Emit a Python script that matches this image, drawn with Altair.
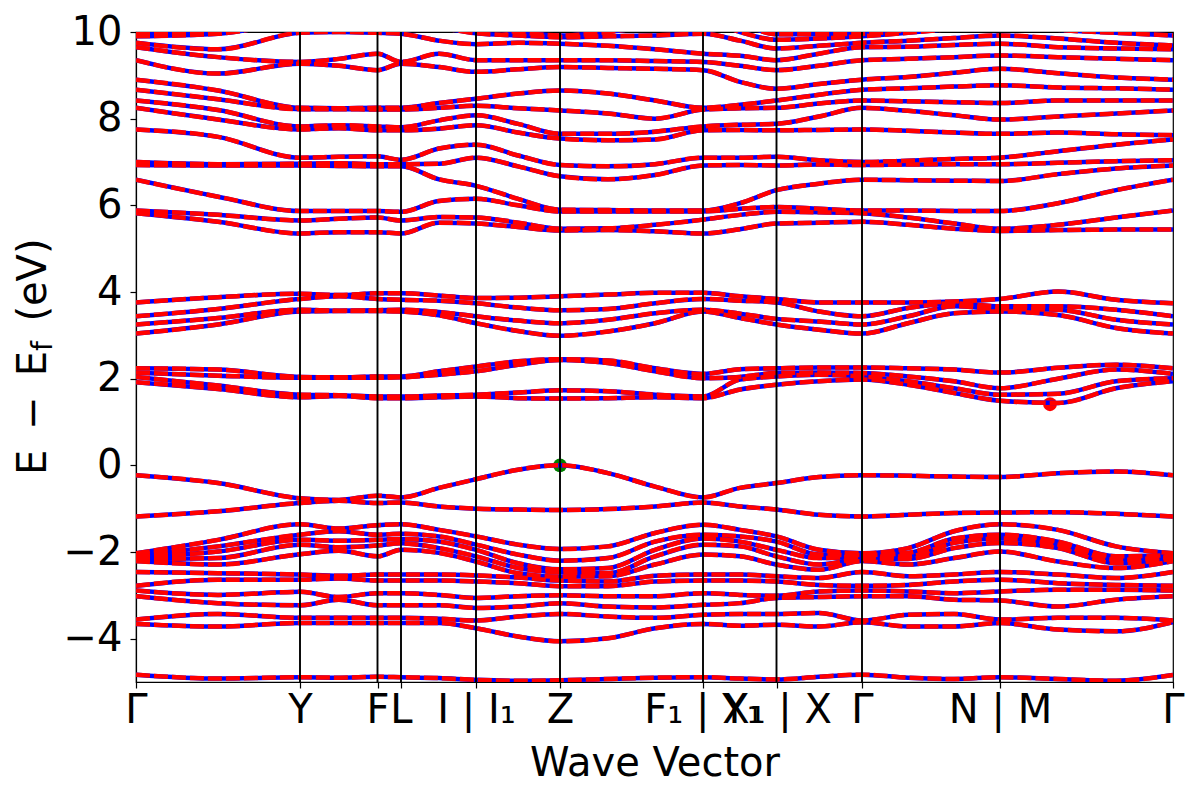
import altair as alt
import pandas as pd

# k-path sample positions (arbitrary distance units)
k_points = [0.0, 0.82, 1.64, 2.03, 2.415, 2.65, 3.03, 3.40, 3.82, 4.24, 4.72, 5.19,
            5.67, 6.04, 6.405, 6.83, 7.26, 7.72, 8.18, 8.64, 9.22, 9.80, 10.37]
k_ticks = [0.0, 1.64, 2.415, 2.65, 3.40, 4.24, 5.67, 6.405, 7.26, 8.64, 10.37]
k_labels = ["Γ", "Y", "F", "L", "I | I₁", "Z", "F₁ | Y₁", "X₁ | X", "Γ", "N | M", "Γ"]
y_ticks = [-4, -2, 0, 2, 4, 6, 8, 10]

# valence bands (eV), one row per k sample point
vb_rows = [
    [-0.23, -1.18, -2.03, -2.07, -2.11, -2.16, -2.21, -2.46, -2.78, -2.89, -3.02, -3.56, -3.66, -4.83],
    [-0.41, -1.06, -1.72, -1.87, -1.99, -2.14, -2.29, -2.49, -2.64, -2.99, -3.18, -3.43, -3.72, -4.92],
    [-0.76, -0.87, -1.36, -1.60, -1.72, -1.83, -2.05, -2.52, -2.64, -2.92, -3.23, -3.52, -3.64, -4.89],
    [-0.80, -0.82, -1.46, -1.52, -1.74, -1.89, -1.97, -2.55, -2.61, -3.04, -3.10, -3.52, -3.64, -4.90],
    [-0.70, -0.87, -1.38, -1.60, -1.72, -1.85, -2.10, -2.52, -2.66, -2.95, -3.23, -3.52, -3.64, -4.88],
    [-0.74, -0.86, -1.36, -1.58, -1.70, -1.80, -1.95, -2.52, -2.66, -2.95, -3.23, -3.52, -3.64, -4.89],
    [-0.52, -0.95, -1.49, -1.64, -1.76, -1.91, -2.02, -2.52, -2.66, -2.99, -3.23, -3.54, -3.64, -4.91],
    [-0.32, -1.00, -1.64, -1.83, -1.95, -2.10, -2.22, -2.54, -2.68, -3.06, -3.29, -3.58, -3.76, -4.95],
    [-0.10, -1.02, -1.83, -2.06, -2.26, -2.37, -2.49, -2.59, -2.72, -3.02, -3.26, -3.49, -3.95, -4.97],
    [0.00, -1.03, -1.93, -2.20, -2.40, -2.47, -2.57, -2.66, -2.79, -3.00, -3.18, -3.43, -4.06, -4.96],
    [-0.18, -1.01, -1.87, -2.14, -2.37, -2.49, -2.56, -2.68, -2.79, -3.02, -3.26, -3.49, -3.99, -4.93],
    [-0.49, -0.95, -1.56, -1.76, -1.95, -2.10, -2.29, -2.55, -2.68, -3.02, -3.28, -3.52, -3.76, -4.90],
    [-0.74, -0.86, -1.37, -1.60, -1.69, -1.83, -2.06, -2.52, -2.66, -2.95, -3.22, -3.45, -3.66, -4.89],
    [-0.52, -0.95, -1.49, -1.64, -1.76, -1.87, -2.10, -2.52, -2.66, -2.99, -3.18, -3.43, -3.70, -4.92],
    [-0.41, -1.02, -1.64, -1.76, -1.95, -2.10, -2.29, -2.56, -2.68, -3.01, -3.06, -3.43, -3.68, -4.94],
    [-0.27, -1.14, -1.95, -2.06, -2.14, -2.29, -2.41, -2.60, -2.76, -2.91, -3.04, -3.41, -3.72, -4.88],
    [-0.23, -1.18, -2.03, -2.07, -2.11, -2.16, -2.21, -2.46, -2.78, -2.89, -3.02, -3.58, -3.62, -4.83],
    [-0.24, -1.14, -1.91, -2.02, -2.10, -2.16, -2.29, -2.56, -2.76, -2.91, -3.02, -3.45, -3.72, -4.90],
    [-0.26, -1.10, -1.52, -1.69, -1.79, -1.91, -2.14, -2.52, -2.68, -2.95, -3.10, -3.43, -3.72, -4.93],
    [-0.27, -1.09, -1.36, -1.60, -1.69, -1.79, -1.99, -2.46, -2.64, -2.91, -3.12, -3.56, -3.64, -4.89],
    [-0.18, -1.08, -1.49, -1.76, -1.83, -1.91, -2.22, -2.52, -2.72, -2.87, -3.26, -3.52, -3.79, -4.93],
    [-0.14, -1.12, -1.87, -2.10, -2.18, -2.26, -2.37, -2.60, -2.76, -2.87, -3.10, -3.52, -3.83, -4.97],
    [-0.23, -1.18, -2.03, -2.07, -2.11, -2.16, -2.21, -2.46, -2.78, -2.89, -3.02, -3.58, -3.62, -4.84],
]

# low conduction bands (eV)
cb_rows = [
    [3.76, 3.44, 3.25, 3.04, 2.24, 2.14, 2.04, 1.92],
    [3.88, 3.61, 3.40, 3.25, 2.21, 2.07, 1.84, 1.76],
    [3.96, 3.84, 3.59, 3.55, 2.04, 2.02, 1.63, 1.57],
    [3.93, 3.90, 3.57, 3.56, 2.03, 2.02, 1.62, 1.60],
    [3.97, 3.84, 3.58, 3.56, 2.05, 2.02, 1.59, 1.55],
    [3.97, 3.82, 3.59, 3.55, 2.05, 2.03, 1.59, 1.55],
    [3.92, 3.80, 3.54, 3.46, 2.17, 2.09, 1.61, 1.57],
    [3.86, 3.74, 3.44, 3.28, 2.28, 2.17, 1.63, 1.59],
    [3.87, 3.64, 3.34, 3.10, 2.40, 2.32, 1.68, 1.55],
    [3.90, 3.58, 3.28, 2.99, 2.45, 2.43, 1.73, 1.54],
    [3.94, 3.61, 3.36, 3.09, 2.42, 2.36, 1.71, 1.55],
    [3.98, 3.74, 3.51, 3.28, 2.24, 2.17, 1.63, 1.57],
    [3.98, 3.84, 3.59, 3.55, 2.11, 2.01, 1.59, 1.55],
    [3.90, 3.80, 3.50, 3.40, 2.22, 2.04, 1.98, 1.75],
    [3.84, 3.76, 3.38, 3.25, 2.24, 2.13, 2.05, 1.86],
    [3.76, 3.55, 3.32, 3.13, 2.26, 2.14, 2.09, 1.94],
    [3.76, 3.44, 3.25, 3.04, 2.26, 2.13, 2.05, 1.98],
    [3.76, 3.63, 3.44, 3.28, 2.24, 2.05, 1.94, 1.86],
    [3.78, 3.74, 3.67, 3.51, 2.21, 1.94, 1.78, 1.67],
    [3.84, 3.67, 3.61, 3.55, 2.14, 1.78, 1.63, 1.49],
    [4.01, 3.67, 3.59, 3.47, 2.25, 2.00, 1.65, 1.44],
    [3.82, 3.59, 3.36, 3.17, 2.32, 2.21, 1.94, 1.78],
    [3.74, 3.44, 3.25, 3.04, 2.24, 2.11, 2.01, 1.94],
]

# high conduction bands (eV)
hi_rows = [
    [10.3, 9.96, 9.90, 9.75, 9.65, 9.35, 8.90, 8.67, 8.42, 8.25, 7.75, 7.00, 6.93, 6.59, 5.88, 5.82],
    [10.4, 10.05, 9.96, 9.60, 9.42, 9.04, 8.65, 8.45, 8.20, 7.98, 7.58, 6.95, 6.92, 6.20, 5.78, 5.62],
    [10.4, 10.3, 10.2, 9.98, 9.31, 9.27, 8.25, 8.22, 7.82, 7.75, 7.10, 6.96, 6.92, 5.87, 5.65, 5.35],
    [10.45, 10.35, 10.2, 10.0, 9.38, 9.22, 8.24, 8.22, 7.85, 7.78, 7.12, 6.97, 6.91, 5.87, 5.69, 5.38],
    [10.5, 10.4, 10.2, 9.98, 9.50, 9.12, 8.25, 8.21, 7.82, 7.73, 7.13, 6.95, 6.90, 5.87, 5.72, 5.38],
    [10.5, 10.4, 10.2, 9.96, 9.31, 9.27, 8.25, 8.21, 7.80, 7.73, 7.05, 6.95, 6.90, 5.85, 5.65, 5.35],
    [10.5, 10.3, 10.1, 9.80, 9.50, 9.19, 8.36, 8.25, 7.96, 7.77, 7.31, 6.96, 6.60, 6.10, 5.73, 5.60],
    [10.4, 10.15, 9.97, 9.72, 9.35, 9.08, 8.46, 8.30, 8.08, 7.85, 7.40, 7.10, 6.45, 6.15, 5.72, 5.58],
    [10.4, 10.0, 9.92, 9.75, 9.35, 9.14, 8.58, 8.24, 7.88, 7.68, 7.15, 6.90, 6.15, 6.00, 5.60, 5.50],
    [10.4, 9.92, 9.88, 9.73, 9.35, 9.19, 8.65, 8.19, 7.65, 7.54, 6.93, 6.67, 5.90, 5.86, 5.46, 5.42],
    [10.4, 10.0, 9.90, 9.68, 9.35, 9.17, 8.58, 8.12, 7.65, 7.50, 6.90, 6.60, 5.89, 5.86, 5.47, 5.43],
    [10.45, 10.15, 9.92, 9.60, 9.33, 9.15, 8.42, 8.00, 7.70, 7.52, 6.95, 6.70, 5.88, 5.86, 5.55, 5.40],
    [10.5, 10.3, 9.96, 9.50, 9.31, 9.12, 8.25, 8.21, 7.82, 7.73, 7.10, 6.92, 5.88, 5.86, 5.67, 5.35],
    [10.2, 10.0, 9.80, 9.45, 9.22, 8.85, 8.32, 8.24, 7.86, 7.74, 7.10, 6.93, 6.05, 5.92, 5.78, 5.45],
    [9.95, 9.82, 9.62, 9.35, 9.12, 8.69, 8.42, 8.25, 7.88, 7.73, 7.12, 6.92, 6.35, 5.96, 5.85, 5.58],
    [9.95, 9.85, 9.68, 9.50, 9.22, 8.80, 8.55, 8.35, 8.05, 7.74, 7.04, 6.94, 6.50, 5.92, 5.84, 5.60],
    [9.96, 9.90, 9.75, 9.65, 9.35, 8.90, 8.67, 8.42, 8.25, 7.75, 7.00, 6.93, 6.59, 5.88, 5.82, 5.62],
    [10.05, 9.98, 9.80, 9.66, 9.38, 8.96, 8.70, 8.40, 8.18, 7.72, 7.03, 6.94, 6.58, 5.88, 5.72, 5.55],
    [10.25, 10.08, 9.86, 9.70, 9.42, 9.06, 8.74, 8.38, 8.08, 7.68, 7.07, 6.95, 6.57, 5.87, 5.58, 5.46],
    [10.4, 10.2, 9.92, 9.73, 9.46, 9.15, 8.77, 8.36, 7.98, 7.65, 7.10, 6.95, 6.56, 5.87, 5.46, 5.41],
    [10.35, 10.05, 9.85, 9.65, 9.42, 9.05, 8.72, 8.42, 8.05, 7.68, 7.25, 6.98, 6.72, 6.05, 5.55, 5.43],
    [10.3, 9.98, 9.75, 9.62, 9.38, 8.95, 8.70, 8.42, 8.12, 7.64, 7.40, 7.02, 6.85, 6.35, 5.72, 5.44],
    [10.3, 9.92, 9.69, 9.60, 9.35, 8.90, 8.67, 8.42, 8.19, 7.62, 7.52, 7.04, 6.92, 6.59, 5.88, 5.44],
]

vbm_k, vbm_e = [4.24], [0.0]
cbm_k, cbm_e = [9.14], [1.41]

# ---- build long table ----
records = []
for group, table in (("vb", vb_rows), ("cb", cb_rows), ("hi", hi_rows)):
    for p, (k, energies) in enumerate(zip(k_points, table)):
        for b, e in enumerate(energies):
            records.append({"band": f"{group}{b}", "k": k, "E": e, "order": p})
bands = pd.DataFrame(records)

FONT = "DejaVu Sans"
labels_js = "[" + ",".join(f"'{l}'" for l in k_labels) + "]"
ticks_js = "[" + ",".join(repr(t) for t in k_ticks) + "]"

x_enc = alt.X(
    "k:Q",
    scale=alt.Scale(domain=[0, 10.37], nice=False, zero=False),
    axis=alt.Axis(
        values=k_ticks,
        labelExpr=f"{labels_js}[indexof({ticks_js}, datum.value)]",
        labelFontSize=40, labelFont=FONT, labelColor="black",
        labelOverlap=False, labelFlush=False, labelPadding=2,
        tickSize=6, tickWidth=1.2, tickColor="black",
        domainColor="black", domainWidth=1.2, grid=False,
        title="Wave Vector", titleFontSize=40, titleFont=FONT,
        titleFontWeight="normal", titleColor="black", titlePadding=13,
    ),
)
y_enc = alt.Y(
    "E:Q",
    scale=alt.Scale(domain=[-5, 10], nice=False, zero=False),
    axis=alt.Axis(
        values=y_ticks,
        labelExpr="replace(format(datum.value, 'd'), '-', '\u2212')",
        labelFontSize=40, labelFont=FONT, labelColor="black", labelPadding=8,
        tickSize=6, tickWidth=1.2, tickColor="black",
        domainColor="black", domainWidth=1.2, grid=False, title="",
    ),
)

blue = alt.Chart(bands).mark_line(
    color="#0000ff", strokeWidth=4.5, interpolate="monotone", clip=True
).encode(x=x_enc, y=y_enc, detail="band:N", order="order:Q")

red = alt.Chart(bands).mark_line(
    color="#ff0000", strokeWidth=4.5, strokeDash=[14, 4], interpolate="monotone", clip=True
).encode(x=x_enc, y=y_enc, detail="band:N", order="order:Q")

rules = alt.Chart(pd.DataFrame({"k": k_ticks[1:-1]})).mark_rule(
    color="black", strokeWidth=1.9
).encode(x=x_enc)

vbm = alt.Chart(pd.DataFrame({"k": vbm_k, "E": vbm_e})).mark_circle(
    color="#008000", size=190, opacity=1
).encode(x=x_enc, y=y_enc)
cbm = alt.Chart(pd.DataFrame({"k": cbm_k, "E": cbm_e})).mark_circle(
    color="#ff0000", size=190, opacity=1
).encode(x=x_enc, y=y_enc)

dummy = pd.DataFrame({"d": [0]})
ytitle_main = alt.Chart(dummy).mark_text(
    text="E\u2002\u2212\u2002E", angle=270, fontSize=40, font=FONT,
    align="center", baseline="middle", color="black"
).encode(x=alt.value(-102), y=alt.value(381))
ytitle_sub = alt.Chart(dummy).mark_text(
    text="f", angle=270, fontSize=28, font=FONT,
    align="center", baseline="middle", color="black"
).encode(x=alt.value(-92), y=alt.value(314))
ytitle_unit = alt.Chart(dummy).mark_text(
    text="(eV)", angle=270, fontSize=40, font=FONT,
    align="center", baseline="middle", color="black"
).encode(x=alt.value(-102), y=alt.value(248))

chart = alt.layer(
    vbm, cbm, blue, red, rules, ytitle_main, ytitle_sub, ytitle_unit
).properties(
    width=1037, height=650,
    autosize=alt.AutoSizeParams(type="none"),
    padding={"left": 128, "top": 24, "right": 19, "bottom": 110},
).configure_view(stroke="black", strokeWidth=1.2)

chart.save("out.html", embed_options={"renderer": "svg", "actions": False})
